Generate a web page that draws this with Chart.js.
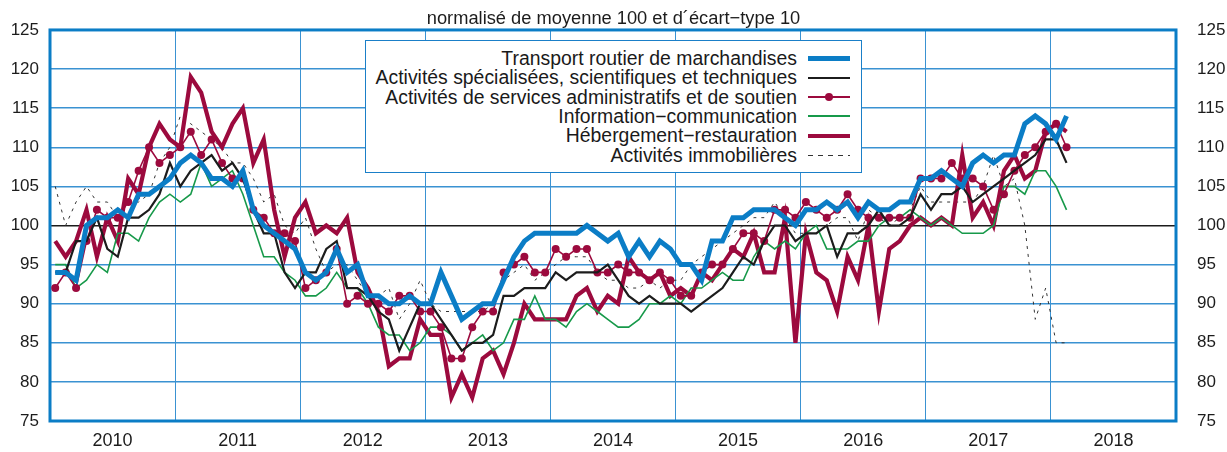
<!DOCTYPE html>
<html lang="fr">
<head>
<meta charset="UTF-8" />
<title>Indicateurs normalisés</title>
<style>
  body { margin: 0; background: #fff; }
  #wrap { position: relative; width: 1227px; height: 452px; }
  #legende { position: absolute; left: 365px; top: 40px; width: 495px; height: 131px; border: 1px solid #1a7fc8; background: #fff; }
  .lg-txt { position: absolute; right: 430px; font-size: 19.4px; line-height: 20px; font-family: "Liberation Sans", Arial, sans-serif; color: #1a1a1a; white-space: nowrap; }
  .lg-trait { position: absolute; left: 808px; width: 42px; }
  .lg-point { position: absolute; left: 825px; width: 8px; height: 8px; border-radius: 50%; }
</style>
</head>
<body>
<div id="wrap">
  <canvas id="chart" width="1227" height="452"></canvas>
  <div id="legende"></div>
</div>
<script src="https://cdn.jsdelivr.net/npm/chart.js"></script>
<script>
"use strict";
// séries mensuelles, janvier 2010 à février 2018
const annees = ["2010", "2011", "2012", "2013", "2014", "2015", "2016", "2017", "2018"];
const titre = "normalisé de moyenne 100 et d\u00b4écart\u2212type 10";

const transport = [
  94, 94, 93, 100, 101, 101, 102, 101, 104, 104, 105, 106,
  108, 109, 108, 106, 106, 105, 107, 102, 100, 99, 98, 97,
  94, 93, 94, 97, 94, 95, 91, 91, 90, 90, 91, 90,
  90, 94, 91, 88, 89, 90, 90, 93, 96, 98, 99, 99,
  99, 99, 99, 100, 99, 98, 99, 96, 98, 96, 98, 97,
  95, 95, 93, 98, 98, 101, 101, 102, 102, 102, 101, 100,
  102, 102, 103, 102, 103, 101, 103, 102, 102, 103, 103, 106,
  106, 107, 106, 105, 108, 109, 108, 109, 109, 113, 114, 113,
  111, 114
];
const specialisees = [
  94, 94, 98, 98, 101, 97, 96, 101, 101, 102, 104, 108,
  105, 107, 108, 109, 107, 108, 106, 102, 99, 99, 94, 92,
  94, 94, 97, 98, 92, 92, 91, 89, 88, 84, 87, 90,
  90, 88, 86, 84, 85, 85, 86, 91, 91, 92, 92, 92,
  94, 93, 94, 94, 94, 95, 93, 91, 90, 91, 90, 90,
  90, 89, 90, 91, 92, 94, 96, 95, 98, 100, 100, 98,
  99, 99, 100, 96, 99, 99, 100, 102, 100, 100, 101, 104,
  102, 104, 104, 105, 103, 104, 105, 106, 107, 108, 109, 111,
  111, 108
];
const administratifs = [
  92, 94, 92, 98, 102, 101, 101, 103, 107, 110, 108, 109,
  110, 112, 109, 111, 108, 106, 106, 102, 101, 99, 99, 98,
  92, 93, 94, 97, 90, 91, 90, 90, 89, 91, 91, 89,
  89, 87, 83, 83, 87, 89, 89, 94, 95, 96, 94, 94,
  97, 96, 97, 97, 94, 94, 95, 94, 94, 93, 94, 93,
  91, 91, 94, 95, 95, 97, 99, 99, 98, 102, 102, 101,
  103, 102, 101, 102, 104, 102, 101, 101, 101, 101, 101, 106,
  106, 106, 108, 106, 106, 105, 102, 104, 107, 109, 110, 112,
  113, 110
];
const information = [
  95, 95, 92, 93, 95, 94, 99, 99, 98, 101, 103, 104,
  103, 104, 108, 105, 106, 107, 104, 100, 96, 96, 94, 93,
  91, 91, 92, 94, 92, 92, 90, 87, 86, 86, 84, 85,
  87, 87, 86, 84, 85, 86, 84, 85, 88, 88, 91, 88,
  88, 87, 89, 90, 89, 88, 87, 87, 88, 90, 90, 91,
  90, 92, 92, 93, 94, 93, 93, 96, 98, 97, 98, 97,
  99, 100, 97, 97, 97, 98, 98, 100, 101, 101, 102, 101,
  100, 101, 100, 99, 99, 99, 100, 105, 105, 104, 107, 107,
  105, 102
];
const hebergement = [
  98, 96, 98, 102, 96, 101, 98, 106, 104, 110, 113, 111,
  110, 119, 117, 112, 110, 113, 115, 108, 111, 102, 96, 101,
  103, 99, 100, 99, 101, 94, 92, 89, 82, 83, 83, 88,
  86, 86, 78, 81, 78, 83, 84, 81, 85, 90, 88, 88,
  88, 88, 91, 92, 89, 91, 90, 96, 94, 93, 94, 91,
  92, 91, 94, 93, 95, 97, 96, 99, 94, 94, 101, 85,
  99, 94, 93, 89, 96, 93, 100, 89, 97, 98, 100, 101,
  100, 101, 100, 109, 101, 103, 100, 107, 109, 106, 107, 112,
  113, 112
];
const immobilieres = [
  105, 100, 103, 105, 103, 103, 101, 103, 103, 104, 108, 110,
  114, 113, 112, 111, 110, 108, 108, 106, 103, 104, 100, 99,
  101, 97, 94, 95, 95, 93, 91, 91, 92, 88, 90, 93,
  90, 89, 89, 89, 89, 89, 90, 93, 94, 95, 93, 94,
  95, 96, 96, 96, 94, 93, 93, 92, 92, 93, 92, 93,
  93, 95, 96, 97, 98, 99, 100, 101, 101, 103, 101, 99,
  99, 99, 100, 101, 101, 98, 102, 101, 100, 101, 102, 105,
  103, 103, 103, 103, 103, 105, 109, 105, 106, 100, 88, 92,
  85, 85
];

const BLEU = "#0b7dc6";
const GRILLE = "#3a92d2";
const BORDEAUX = "#9c0a3e";
const VERT = "#17994a";
const NOIR = "#1c1c1c";
const POLICE = "'Liberation Sans', Arial, sans-serif";

// un mois = une unité sur l'axe, point au milieu du mois
function enPoints(valeurs) {
  return valeurs.map((v, i) => ({ x: i + 0.5, y: v }));
}

const cadre = {
  id: "cadre",
  beforeDatasetsDraw(chart) {
    const a = chart.chartArea;
    const c = chart.ctx;
    c.save();
    c.strokeStyle = BLEU;
    c.lineWidth = 3;
    c.strokeRect(a.left, a.top, a.right - a.left, a.bottom - a.top);
    c.restore();
  }
};

const chart = new Chart(document.getElementById("chart"), {
  type: "line",
  data: {
    datasets: [
      { label: "Transport routier de marchandises", data: enPoints(transport),
        borderColor: BLEU, borderWidth: 5, pointRadius: 0 },
      { label: "Activités spécialisées, scientifiques et techniques", data: enPoints(specialisees),
        borderColor: NOIR, borderWidth: 2.2, pointRadius: 0 },
      { label: "Activités de services administratifs et de soutien", data: enPoints(administratifs),
        borderColor: BORDEAUX, borderWidth: 1.6, pointRadius: 4, pointBackgroundColor: BORDEAUX,
        pointBorderWidth: 0 },
      { label: "Information\u2212communication", data: enPoints(information),
        borderColor: VERT, borderWidth: 1.6, pointRadius: 0 },
      { label: "Hébergement\u2212restauration", data: enPoints(hebergement),
        borderColor: BORDEAUX, borderWidth: 4.2, pointRadius: 0 },
      { label: "Activités immobilières", data: enPoints(immobilieres),
        borderColor: "#333", borderWidth: 1, borderDash: [3, 5], pointRadius: 0 }
    ]
  },
  options: {
    responsive: false,
    devicePixelRatio: 1,
    animation: false,
    layout: { padding: 0 },
    plugins: {
      legend: { display: false },
      tooltip: { enabled: false },
      title: {
        display: true, text: titre, color: NOIR,
        font: { family: POLICE, size: 18.3, weight: "normal" },
        padding: { top: 8, bottom: 0 }
      }
    },
    scales: {
      x: {
        type: "linear", min: 0, max: 108,
        afterBuildTicks: (s) => {
          s.ticks = [];
          for (let v = 0; v <= 108; v += 6) s.ticks.push({ value: v });
        },
        afterFit: (s) => { s.height = 31; },
        ticks: {
          autoSkip: false, maxRotation: 0, padding: 9, color: NOIR,
          font: { family: POLICE, size: 18 },
          callback: (v) => (v % 12 === 6 ? annees[(v - 6) / 12] : "")
        },
        grid: {
          drawTicks: false, lineWidth: 1,
          color: (c) => (c.tick && c.tick.value % 12 === 0 && c.tick.value > 0 && c.tick.value < 108 ? GRILLE : "rgba(0,0,0,0)")
        },
        border: { display: false }
      },
      y: {
        position: "left", min: 75, max: 125,
        afterFit: (s) => { s.width = 50; },
        ticks: { stepSize: 5, padding: 11, color: NOIR, font: { family: POLICE, size: 17 } },
        grid: {
          drawTicks: false,
          color: (c) => {
            const v = c.tick.value;
            if (v === 100) return NOIR;
            if (v === 75 || v === 125) return "rgba(0,0,0,0)";
            return GRILLE;
          },
          lineWidth: (c) => (c.tick.value === 100 ? 1.6 : 1.4)
        },
        border: { display: false }
      },
      y2: {
        position: "right", min: 75, max: 125,
        afterFit: (s) => { s.width = 51; },
        ticks: { stepSize: 5, padding: 13, color: NOIR, font: { family: POLICE, size: 17 } },
        grid: { display: false },
        border: { display: false }
      }
    }
  },
  plugins: [cadre]
});

// légende encadrée, construite à partir des séries
const wrap = document.getElementById("wrap");
chart.data.datasets.forEach((ds, k) => {
  const centre = 58.3 + k * 19.35;
  const txt = document.createElement("div");
  txt.className = "lg-txt";
  txt.textContent = ds.label;
  txt.style.top = (centre - 10.5) + "px";
  wrap.appendChild(txt);

  const trait = document.createElement("div");
  trait.className = "lg-trait";
  const h = Math.max(1, Math.round(ds.borderWidth));
  trait.style.height = h + "px";
  trait.style.top = (centre - h / 2) + "px";
  if (ds.borderDash) {
    trait.style.background = "repeating-linear-gradient(to right, " + ds.borderColor + " 0 5px, transparent 5px 10px)";
  } else {
    trait.style.background = ds.borderColor;
  }
  wrap.appendChild(trait);

  if (ds.pointRadius > 0) {
    const p = document.createElement("div");
    p.className = "lg-point";
    p.style.background = ds.pointBackgroundColor;
    p.style.top = (centre - 4) + "px";
    wrap.appendChild(p);
  }
});
</script>
</body>
</html>
